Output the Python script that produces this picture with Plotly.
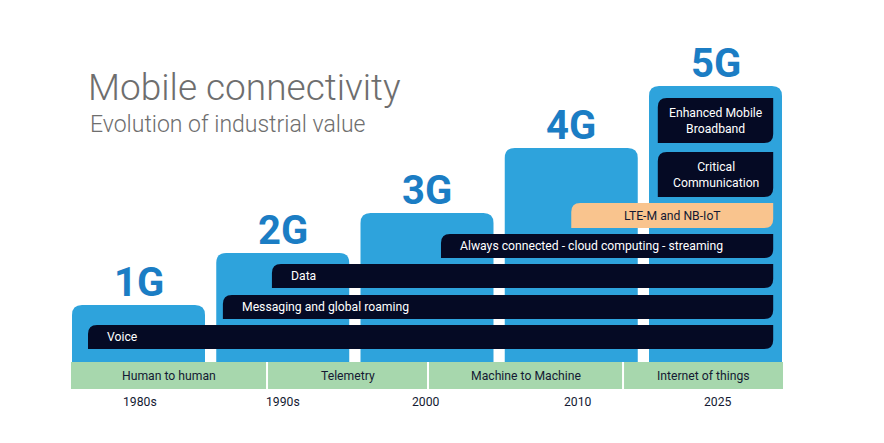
import plotly.graph_objects as go

# ---------------- data ----------------
generations = ["1G", "2G", "3G", "4G", "5G"]
gen_heights = [57, 109, 149, 214, 276]          # relative industrial value (column height)

cap_labels = ["Voice", "Messaging and global roaming", "Data",
              "Always connected - cloud computing - streaming",
              "LTE-M and NB-IoT", "Critical<br>Communication",
              "Enhanced Mobile<br>Broadband"]
cap_start = [-0.35, 0.585, 0.925, 2.097, 3.0, 3.60, 3.60]   # in generation units
cap_end = [4.40, 4.40, 4.40, 4.40, 4.40, 4.40, 4.40]
cap_low = [13, 43, 74, 104, 134, 165, 219]
cap_high = [37, 67, 98, 128, 159, 210, 264]
cap_kind = ["dark", "dark", "dark", "dark", "light", "dark", "dark"]
cap_align = ["left", "left", "left", "left", "center", "center", "center"]

eras = ["Human to human", "Telemetry", "Machine to Machine", "Internet of things"]
era_bounds = [-0.468, 0.891, 2.007, 3.359, 4.468]

year_labels = ["1980s", "1990s", "2000", "2010", "2025"]
year_pos = [0.01, 1.0, 1.99, 3.05, 4.02]

title_text = "Mobile connectivity"
subtitle_text = "Evolution of industrial value"

# ---------------- styling ----------------
W, H = 884, 443
X0, XS = 138.5, 144.25          # pixel of generation 0 and pixels per generation
YB = 362                        # pixel of value 0
COL_HALF = 0.461
BLUE = "#2ea3dc"
BLUE_TXT = "#1b7dc4"
NAVY = "#050a24"
PEACH = "#f9c48e"
GREEN = "#a7d7ad"
DARK_TXT = "#141a33"
FONT = "Roboto"
LBL = 12.2

rx = lambda px: px / XS


def col_path(x0, x1, y0, y1, r):
    return (f"M {x0},{y0} L {x0},{y1 - r} Q {x0},{y1} {x0 + rx(r)},{y1} "
            f"L {x1 - rx(r)},{y1} Q {x1},{y1} {x1},{y1 - r} L {x1},{y0} Z")


def bar_path(x0, x1, y0, y1, r):
    return (f"M {x0},{y0} L {x0},{y1 - r} Q {x0},{y1} {x0 + rx(r)},{y1} "
            f"L {x1},{y1} L {x1},{y0 + r} Q {x1},{y0} {x1 - rx(r)},{y0} Z")


fig = go.Figure()
shapes = []
annotations = []

# generation columns
for i, (g, h) in enumerate(zip(generations, gen_heights)):
    shapes.append(dict(type="path", path=col_path(i - COL_HALF, i + COL_HALF, 0, h, 10),
                       fillcolor=BLUE, line=dict(width=0), layer="below"))
    annotations.append(dict(x=i, y=h + 23, text=g, showarrow=False,
                            xanchor="center", yanchor="middle",
                            font=dict(family=FONT, size=40, color=BLUE_TXT, weight=700)))

# capability bars
for lab, s, e, lo, hi, kind, al in zip(cap_labels, cap_start, cap_end, cap_low,
                                       cap_high, cap_kind, cap_align):
    fill = NAVY if kind == "dark" else PEACH
    tcol = "white" if kind == "dark" else DARK_TXT
    shapes.append(dict(type="path", path=bar_path(s, e, lo, hi, 9),
                       fillcolor=fill, line=dict(width=0), layer="above"))
    if al == "left":
        annotations.append(dict(x=s + rx(17), y=(lo + hi) / 2, text=lab, showarrow=False,
                                xanchor="left", yanchor="middle",
                                font=dict(family=FONT, size=LBL, color=tcol)))
    else:
        annotations.append(dict(x=(s + e) / 2, y=(lo + hi) / 2, text=lab, showarrow=False,
                                xanchor="center", yanchor="middle",
                                font=dict(family=FONT, size=LBL, color=tcol)))

# era band
gap = rx(1)
for k, era in enumerate(eras):
    a = era_bounds[k] + (gap if k > 0 else 0)
    b = era_bounds[k + 1] - (gap if k < len(eras) - 1 else 0)
    shapes.append(dict(type="rect", x0=a, x1=b, y0=-27, y1=0,
                       fillcolor=GREEN, line=dict(width=0), layer="below"))
    annotations.append(dict(x=(era_bounds[k] + era_bounds[k + 1]) / 2, y=-13.5, text=era,
                            showarrow=False, xanchor="center", yanchor="middle",
                            font=dict(family=FONT, size=LBL, color=DARK_TXT)))

# year labels
for yl, yp in zip(year_labels, year_pos):
    annotations.append(dict(x=yp, y=-40, text=yl, showarrow=False,
                            xanchor="center", yanchor="middle",
                            font=dict(family=FONT, size=LBL, color=DARK_TXT)))

# titles
annotations.append(dict(xref="paper", yref="paper", x=86 / W, y=1 - 88 / H,
                        text=title_text, showarrow=False, xanchor="left", yanchor="middle",
                        font=dict(family=FONT, size=37, color="#6e6e6e", weight=300)))
annotations.append(dict(xref="paper", yref="paper", x=88 / W, y=1 - 124 / H,
                        text=subtitle_text, showarrow=False, xanchor="left", yanchor="middle",
                        font=dict(family=FONT, size=23, color="#6e6e6e", weight=300)))

fig.update_layout(
    width=W, height=H, autosize=False,
    margin=dict(l=0, r=0, t=0, b=0),
    paper_bgcolor="white", plot_bgcolor="white",
    xaxis=dict(range=[-X0 / XS, (W - X0) / XS], visible=False, fixedrange=True),
    yaxis=dict(range=[YB - H, YB], visible=False, fixedrange=True),
    shapes=shapes, annotations=annotations, showlegend=False,
)

fig.write_html("out.html", config={"displayModeBar": False},
               post_script="document.body.style.margin='0';document.body.style.overflow='hidden';")
